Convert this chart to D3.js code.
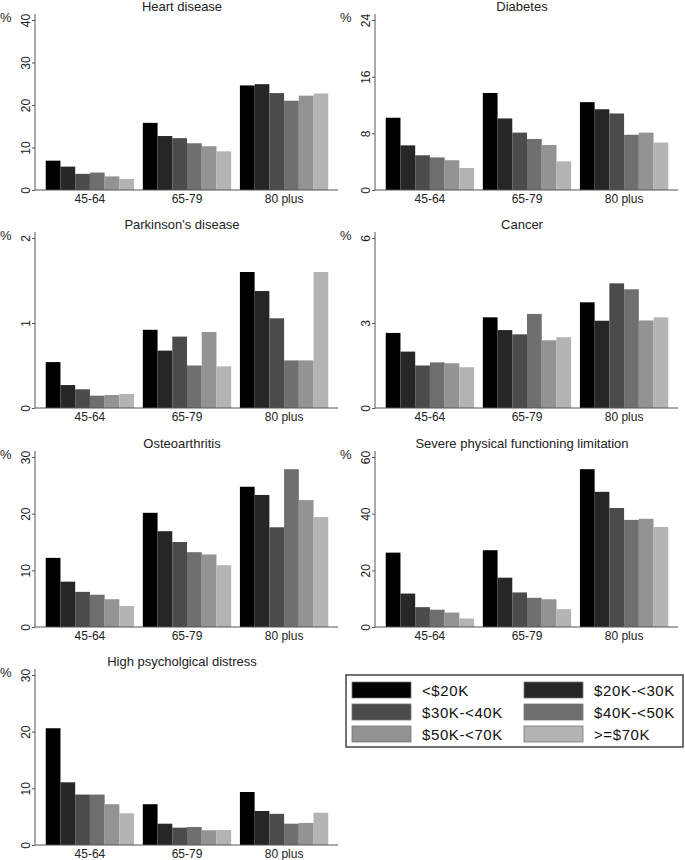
<!DOCTYPE html>
<html>
<head>
<meta charset="utf-8">
<script src="https://cdn.jsdelivr.net/npm/d3@7"></script>
<style>
  body { margin: 0; background: #fff; }
  svg { display: block; font-family: "Liberation Sans", Arial, sans-serif; }
</style>
</head>
<body>
<svg width="685" height="860"></svg>
<script>
// age groups on the x axis, income bands inside each group
var ageGroups = ["45-64", "65-79", "80 plus"];
var incomes = ["<$20K", "$20K-<30K", "$30K-<40K", "$40K-<50K", "$50K-<70K", ">=$70K"];
var greys = ["#000000", "#262626", "#4b4b4b", "#6f6f6f", "#939393", "#b4b4b4"];

// values in %, one row per age group, one column per income band
var heart = [[6.9, 5.5, 3.8, 4.1, 3.2, 2.6], [15.8, 12.7, 12.2, 11.0, 10.3, 9.1], [24.6, 24.9, 22.8, 21.0, 22.2, 22.7]];
var diabetes = [[10.2, 6.3, 4.9, 4.6, 4.2, 3.1], [13.7, 10.1, 8.1, 7.2, 6.35, 4.05], [12.4, 11.4, 10.8, 7.8, 8.1, 6.7]];
var parkinsons = [[0.54, 0.27, 0.22, 0.145, 0.153, 0.165], [0.92, 0.675, 0.84, 0.50, 0.894, 0.49], [1.6, 1.376, 1.055, 0.56, 0.56, 1.6]];
var cancer = [[2.65, 1.99, 1.5, 1.61, 1.58, 1.44], [3.2, 2.75, 2.6, 3.32, 2.39, 2.5], [3.73, 3.08, 4.4, 4.19, 3.09, 3.2]];
var osteo = [[12.2, 8.0, 6.2, 5.7, 4.9, 3.7], [20.15, 16.9, 15.0, 13.2, 12.8, 10.9], [24.75, 23.3, 17.6, 27.85, 22.4, 19.4]];
var physical = [[26.25, 11.8, 7.0, 6.1, 5.1, 3.0], [27.1, 17.4, 12.2, 10.3, 9.8, 6.3], [55.7, 47.7, 42.0, 37.8, 38.2, 35.3]];
var distress = [[20.6, 11.06, 8.9, 8.9, 7.2, 5.6], [7.2, 3.76, 3.06, 3.18, 2.6, 2.65], [9.35, 6.0, 5.5, 3.76, 3.9, 5.7]];

var titles = ["Heart disease", "Diabetes", "Parkinson's disease", "Cancer", "Osteoarthritis", "Severe physical functioning limitation", "High psycholgical distress"];
var series = [heart, diabetes, parkinsons, cancer, osteo, physical, distress];
var yTicks = [[0, 10, 20, 30, 40], [0, 8, 16, 24], [0, 1, 2], [0, 3, 6], [0, 10, 20, 30], [0, 20, 40, 60], [0, 10, 20, 30]];

var svg = d3.select('svg');
var colX = [0, 340];
var rowY = [0, 218, 437, 655];
var axisColor = '#555';

var x0 = d3.scaleBand().domain(ageGroups).range([37, 337]).paddingInner(0.09).paddingOuter(0.09);
var x1 = d3.scaleBand().domain(incomes).range([0, x0.bandwidth()]);
var color = d3.scaleOrdinal().domain(incomes).range(greys);

series.forEach(function (data, i) {
    var g = svg.append('g')
        .attr('transform', 'translate(' + colX[i % 2] + ',' + rowY[Math.floor(i / 2)] + ')');
    var ticks = yTicks[i];
    var y = d3.scaleLinear().domain([0, ticks[ticks.length - 1]]).range([190, 20]);

    g.append('text').attr('x', 182).attr('y', 11).attr('text-anchor', 'middle')
        .attr('font-size', 13).attr('fill', '#222').text(titles[i]);
    g.append('text').attr('x', 0).attr('y', 22).attr('font-size', 13).attr('fill', '#222').text('%');

    var groups = g.selectAll('.grp').data(data).enter().append('g')
        .attr('transform', function (d, j) { return 'translate(' + x0(ageGroups[j]) + ',0)'; });
    groups.selectAll('rect').data(function (d) { return d; }).enter().append('rect')
        .attr('x', function (d, k) { return x1(incomes[k]); })
        .attr('y', function (d) { return y(d); })
        .attr('width', x1.bandwidth())
        .attr('height', function (d) { return y(0) - y(d); })
        .attr('fill', function (d, k) { return color(incomes[k]); });

    // y axis, tick labels turned like the original
    var ya = g.append('g').attr('transform', 'translate(35,0)')
        .call(d3.axisLeft(y).tickValues(ticks).tickFormat(d3.format('d')).tickSize(3).tickPadding(3).tickSizeOuter(0));
    ya.select('.domain').remove();
    ya.selectAll('line').attr('stroke', axisColor);
    ya.selectAll('text').attr('font-size', 12).attr('fill', '#222')
        .attr('transform', 'rotate(-90)').attr('text-anchor', 'middle')
        .attr('x', 0).attr('dy', 0).attr('y', -5);
    g.append('line').attr('x1', 35).attr('x2', 35).attr('y1', 14).attr('y2', 190)
        .attr('stroke', axisColor).attr('stroke-width', 1);

    // x axis
    var xa = g.append('g').attr('transform', 'translate(0,190)')
        .call(d3.axisBottom(x0).tickSize(0).tickPadding(4));
    xa.select('.domain').attr('d', 'M35,0H338').attr('stroke', axisColor);
    xa.selectAll('text').attr('font-size', 12).attr('fill', '#222');
});

// legend
var lg = svg.append('g').attr('transform', 'translate(346,675)');
lg.append('rect').attr('width', 337).attr('height', 72).attr('fill', '#fff')
    .attr('stroke', '#444').attr('stroke-width', 1.5);
var items = lg.selectAll('.item').data(incomes).enter().append('g')
    .attr('transform', function (d, k) { return 'translate(' + (k % 2 === 0 ? 6 : 178) + ',' + (7 + Math.floor(k / 2) * 22) + ')'; });
items.append('rect').attr('width', 59).attr('height', 16)
    .attr('fill', function (d) { return color(d); }).attr('stroke', '#777').attr('stroke-width', 0.8);
items.append('text').attr('x', 70).attr('y', 14).attr('font-size', 15)
    .attr('fill', '#111').attr('letter-spacing', 0.6).text(function (d) { return d; });
</script>
</body>
</html>
